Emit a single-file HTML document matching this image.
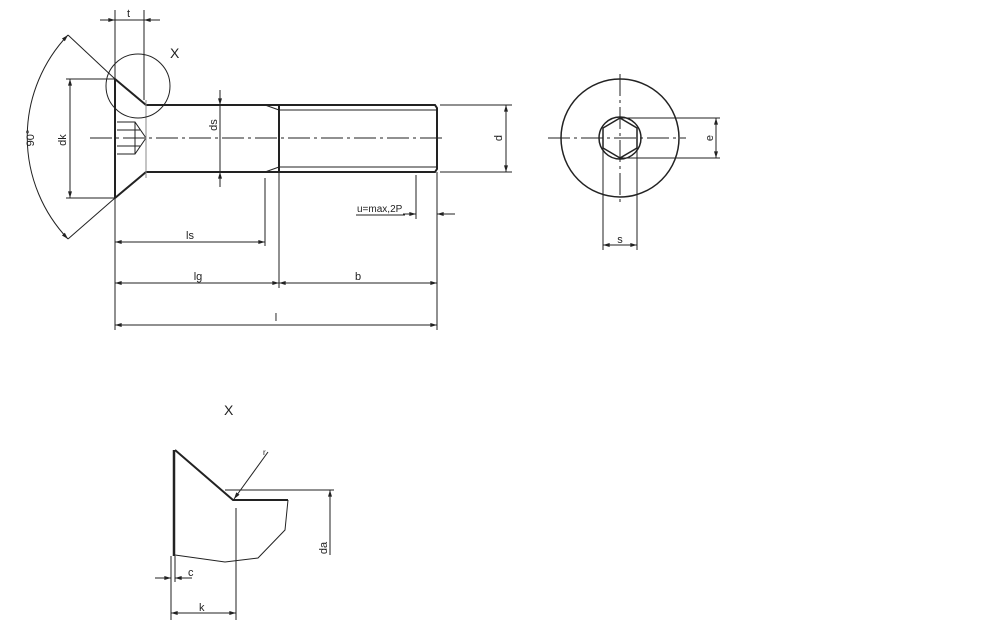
<!DOCTYPE html>
<html><head><style>html,body{margin:0;padding:0;background:#fff}svg{display:block}text{font-family:"Liberation Sans",sans-serif;font-size:11px;fill:#222}</style></head><body>
<svg width="994" height="642" viewBox="0 0 994 642" xmlns="http://www.w3.org/2000/svg">
<defs>
<marker id="a" viewBox="0 0 10 6" refX="10" refY="3" markerWidth="9" markerHeight="4" orient="auto-start-reverse" markerUnits="userSpaceOnUse"><path d="M0,0L10,3L0,6z" fill="#222"/></marker>
</defs>
<g stroke="#222" fill="none">
<g stroke-width="2">
<line x1="115" y1="79" x2="115" y2="198"/>
<polyline points="115,79 146,105 435,105 437,108 437,169 435,172 146,172 115,198"/>
<line x1="279" y1="105" x2="279" y2="172"/>
</g>
<g stroke-width="1">
<line x1="279" y1="110" x2="437" y2="110"/>
<line x1="279" y1="167" x2="437" y2="167"/>
<path d="M265,105 L279,110 M265,172 L279,167"/>
<path d="M117,122 L135,122 L146,138 L135,154 L117,154 M117,130 L140,130 M117,146 L140,146 M135,122 L135,154"/>
<line x1="146" y1="100" x2="146" y2="178" stroke="#888"/>
</g>
<g stroke-width="1" stroke-dasharray="22,4,3,4">
<line x1="90" y1="138" x2="445" y2="138"/>
<line x1="548" y1="138" x2="686" y2="138"/>
<line x1="620" y1="74" x2="620" y2="206"/>
</g>
<g stroke-width="1">
<line x1="115" y1="10" x2="115" y2="330"/>
<line x1="144" y1="10" x2="144" y2="100"/>
<line x1="100" y1="20" x2="115" y2="20" marker-end="url(#a)"/>
<line x1="160" y1="20" x2="144" y2="20" marker-end="url(#a)"/>
<line x1="115" y1="20" x2="144" y2="20"/>
<circle cx="138" cy="86" r="32"/>
<line x1="68" y1="35" x2="115" y2="79"/>
<line x1="68" y1="239" x2="115" y2="198"/>
<path d="M68,35 A148,148 0 0 0 68,239" marker-start="url(#a)" marker-end="url(#a)"/>
<line x1="66" y1="79" x2="115" y2="79"/>
<line x1="66" y1="198" x2="115" y2="198"/>
<line x1="70" y1="79" x2="70" y2="198" marker-start="url(#a)" marker-end="url(#a)"/>
<line x1="220" y1="90" x2="220" y2="187"/>
<line x1="220" y1="92" x2="220" y2="105" marker-end="url(#a)"/>
<line x1="220" y1="186" x2="220" y2="172" marker-end="url(#a)"/>
<line x1="265" y1="178" x2="265" y2="246"/>
<line x1="279" y1="172" x2="279" y2="288"/>
<line x1="437" y1="172" x2="437" y2="330"/>
<line x1="115" y1="242" x2="265" y2="242" marker-start="url(#a)" marker-end="url(#a)"/>
<line x1="115" y1="283" x2="279" y2="283" marker-start="url(#a)" marker-end="url(#a)"/>
<line x1="279" y1="283" x2="437" y2="283" marker-start="url(#a)" marker-end="url(#a)"/>
<line x1="115" y1="325" x2="437" y2="325" marker-start="url(#a)" marker-end="url(#a)"/>
<line x1="440" y1="105" x2="512" y2="105"/>
<line x1="440" y1="172" x2="512" y2="172"/>
<line x1="506" y1="105" x2="506" y2="172" marker-start="url(#a)" marker-end="url(#a)"/>
<line x1="416" y1="175" x2="416" y2="219"/>
<line x1="356" y1="215" x2="405" y2="215"/>
<line x1="403" y1="214" x2="416" y2="214" marker-end="url(#a)"/>
<line x1="455" y1="214" x2="437" y2="214" marker-end="url(#a)"/>
<circle cx="620" cy="138" r="59" stroke-width="1.5"/>
<circle cx="620" cy="138" r="21" stroke-width="1.5"/>
<polygon points="620,118 637,128 637,148 620,158 603,148 603,128" stroke-width="1.5"/>
<line x1="620" y1="118" x2="720" y2="118"/>
<line x1="620" y1="158" x2="720" y2="158"/>
<line x1="716" y1="118" x2="716" y2="158" marker-start="url(#a)" marker-end="url(#a)"/>
<line x1="603" y1="148" x2="603" y2="250"/>
<line x1="637" y1="148" x2="637" y2="250"/>
<line x1="603" y1="245" x2="637" y2="245" marker-start="url(#a)" marker-end="url(#a)"/>
<line x1="174" y1="450" x2="174" y2="556" stroke-width="2.5"/>
<polyline points="175,450 233,500 288,500" stroke-width="2"/>
<polyline points="288,500 285,530 258,558 225,562 175,555"/>
<line x1="236" y1="508" x2="236" y2="620"/>
<line x1="225" y1="490" x2="334" y2="490"/>
<line x1="330" y1="555" x2="330" y2="490" marker-end="url(#a)"/>
<line x1="268" y1="452" x2="234" y2="499" marker-end="url(#a)"/>
<line x1="171" y1="556" x2="171" y2="620"/>
<line x1="175" y1="556" x2="175" y2="582"/>
<line x1="155" y1="578" x2="171" y2="578" marker-end="url(#a)"/>
<line x1="192" y1="578" x2="175" y2="578" marker-end="url(#a)"/>
<line x1="171" y1="613" x2="236" y2="613" marker-start="url(#a)" marker-end="url(#a)"/>
</g>
</g>
<text x="127" y="17">t</text>
<text x="170" y="58" style="font-size:14px">X</text>
<text x="0" y="0" transform="translate(34,138) rotate(-90)" text-anchor="middle">90°</text>
<text x="0" y="0" transform="translate(66,140) rotate(-90)" text-anchor="middle">dk</text>
<text x="0" y="0" transform="translate(217,125) rotate(-90)" text-anchor="middle">ds</text>
<text x="0" y="0" transform="translate(502,138) rotate(-90)" text-anchor="middle">d</text>
<text x="0" y="0" transform="translate(713,138) rotate(-90)" text-anchor="middle">e</text>
<text x="190" y="239" text-anchor="middle">ls</text>
<text x="198" y="280" text-anchor="middle">lg</text>
<text x="358" y="280" text-anchor="middle">b</text>
<text x="276" y="321" text-anchor="middle">l</text>
<text x="357" y="212" style="font-size:10px">u=max,2P</text>
<text x="620" y="243" text-anchor="middle">s</text>
<text x="224" y="415" style="font-size:14px">X</text>
<text x="263" y="455" style="font-size:8px">r</text>
<text x="0" y="0" transform="translate(327,548) rotate(-90)" text-anchor="middle">da</text>
<text x="188" y="576">c</text>
<text x="199" y="611">k</text>
</svg>
</body></html>
